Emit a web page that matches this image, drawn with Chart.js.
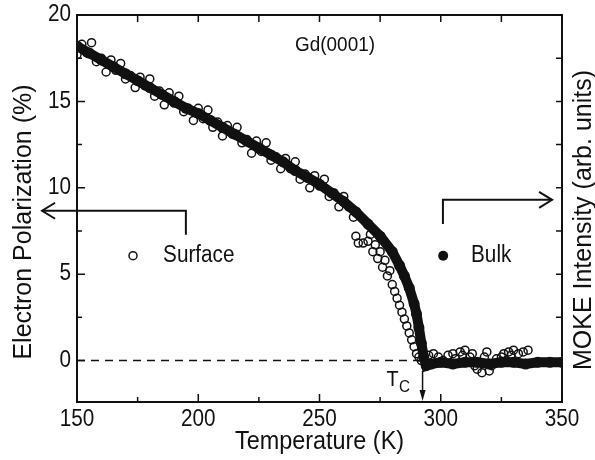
<!DOCTYPE html>
<html>
<head>
<meta charset="utf-8">
<script src="https://cdn.jsdelivr.net/npm/chart.js@4.4.0/dist/chart.umd.min.js"></script>
<style>
  body { margin: 0; background: #fff; }
</style>
</head>
<body>
<canvas id="gdChart" width="595" height="460"></canvas>
<script>
// bulk (MOKE) curve
const bulkT = [150, 155, 160, 165, 170, 175, 180, 185, 190, 195, 200, 205, 210, 215, 220, 225,
  230, 235, 240, 245, 250, 255, 260, 265, 270, 275, 280, 283, 285, 287, 289, 290, 291, 292, 293,
  294, 296, 300, 305, 310, 315, 320, 325, 330, 335, 340, 345, 350];
const bulkP = [18.2, 17.8, 17.4, 17.0, 16.6, 16.2, 15.8, 15.4, 15.0, 14.6, 14.3, 13.9, 13.5, 13.1, 12.7, 12.3,
  11.9, 11.5, 11.0, 10.6, 10.2, 9.7, 9.2, 8.6, 7.9, 7.2, 6.3, 5.5, 4.9, 4.2, 3.3, 2.7, 1.9, 1.0, 0.2,
  -0.3, -0.2, -0.1, -0.2, -0.1, -0.1, -0.2, -0.1, -0.1, -0.2, -0.1, -0.1, -0.1];

// surface (spin polarized photoemission) points
const surfT = [150, 152, 154, 156, 158, 160, 162, 164, 166, 168, 170, 172, 174, 176, 178, 180, 182, 184,
  186, 188, 190, 192, 194, 196, 198, 200, 202, 204, 206, 208, 210, 212, 214, 216, 218, 220, 222, 224,
  226, 228, 230, 232, 234, 236, 238, 240, 242, 244, 246, 248, 250, 252, 254, 256, 258, 260, 262, 264,
  265, 266, 268, 270, 271, 272, 273, 274, 275, 276, 277, 278, 279, 280, 281, 282, 283, 284, 285, 286,
  287, 288, 289, 290, 291, 292, 295, 297, 299, 301, 303, 305, 306, 308, 309, 310, 312, 313, 314, 315,
  317, 318, 319, 320, 321, 323, 325, 326, 327, 328, 329, 330, 332, 334, 336];
const surfP = [17.7, 18.3, 17.8, 18.4, 17.3, 17.5, 16.7, 17.4, 16.8, 17.2, 16.3, 16.5, 15.8, 16.4, 15.9, 16.3, 15.3, 15.6,
  14.8, 15.5, 14.9, 15.3, 14.4, 14.6, 13.9, 14.6, 14.0, 14.5, 13.5, 13.8, 13.0, 13.6, 13.1, 13.5, 12.6, 12.8, 12.0, 12.7,
  12.1, 12.6, 11.6, 11.8, 11.1, 11.7, 11.1, 11.5, 10.5, 10.8, 10.0, 10.7, 10.1, 10.5, 9.5, 9.7, 8.9, 9.5, 8.9, 8.3,
  7.2, 6.8, 6.8, 6.9, 7.3, 6.3, 6.7, 5.9, 6.3, 5.4, 5.8, 4.9, 5.2, 4.4, 4.0, 3.6, 3.2, 2.8, 2.4, 2.0,
  1.6, 1.2, 0.8, 0.4, 0.2, 0.0, 0.3, 0.4, 0.2, 0.0, 0.3, 0.4, 0.1, 0.5, 0.3, 0.6, 0.2, 0.4, -0.3, -0.5,
  -0.7, 0.2, 0.5, -0.6, -0.3, 0.1, 0.2, 0.4, 0.0, 0.5, 0.3, 0.6, 0.4, 0.5, 0.6];

const zeroT = [150, 292];
const zeroP = [0, 0];
const xTicks = [150, 200, 250, 300, 350];
const yTicks = [0, 5, 10, 15, 20];
const tc = 292.5;

const FONT = "'Liberation Sans', Arial, sans-serif";
const SX = 0.9; // horizontal text in the figure is a bit narrow

const pts = (xs, ys) => xs.map((x, i) => ({ x, y: ys[i] }));

const txt = (ctx, s, x, y, size, align, rot) => {
  ctx.save();
  ctx.translate(x, y);
  if (rot) {
    ctx.rotate(rot);
  } else {
    ctx.scale(SX, 1);
  }
  ctx.font = size + 'px ' + FONT;
  ctx.textAlign = align || 'center';
  ctx.textBaseline = 'middle';
  ctx.fillStyle = '#111';
  ctx.fillText(s, 0, 0);
  ctx.restore();
};

const chevron = (ctx, x, y, d) => {
  ctx.beginPath();
  ctx.moveTo(x + d * 13, y - 8);
  ctx.lineTo(x, y);
  ctx.lineTo(x + d * 13, y + 8);
  ctx.stroke();
};

const decor = {
  id: 'decor',
  afterDraw(chart) {
    const { ctx, chartArea: a } = chart;
    const xs = chart.scales.x, ys = chart.scales.y;
    const X = v => xs.getPixelForValue(v), Y = v => ys.getPixelForValue(v);
    ctx.save();
    ctx.strokeStyle = '#111';
    ctx.fillStyle = '#111';

    // frame
    ctx.lineWidth = 2;
    ctx.strokeRect(a.left, a.top, a.right - a.left, a.bottom - a.top);

    // inward ticks
    ctx.lineWidth = 1.5;
    ctx.beginPath();
    for (let v = 150; v <= 350; v += 25) {
      const len = v % 50 === 0 ? 8 : 5;
      ctx.moveTo(X(v), a.bottom); ctx.lineTo(X(v), a.bottom - len);
      ctx.moveTo(X(v), a.top); ctx.lineTo(X(v), a.top + 7);
    }
    for (let v = 0; v <= 20; v += 2.5) {
      const len = v % 5 === 0 ? 8 : 5;
      ctx.moveTo(a.left, Y(v)); ctx.lineTo(a.left + len, Y(v));
      ctx.moveTo(a.right, Y(v)); ctx.lineTo(a.right - 6, Y(v));
    }
    ctx.stroke();

    // tick labels
    xTicks.forEach(v => txt(ctx, String(v), X(v), a.bottom + 18, 23));
    yTicks.forEach(v => txt(ctx, String(v), a.left - 6, Y(v), 23, 'right'));

    // axis titles
    txt(ctx, 'Temperature (K)', (a.left + a.right) / 2, 442, 26);
    txt(ctx, 'Electron Polarization (%)', 24, 222, 25, 'center', -Math.PI / 2);
    txt(ctx, 'MOKE Intensity (arb. units)', 584, 220, 25, 'center', -Math.PI / 2);

    // sample label
    txt(ctx, 'Gd(0001)', X(256.4), Y(18.27), 21);

    // legend-like markers
    ctx.lineWidth = 1.5;
    ctx.beginPath();
    ctx.arc(X(173.1), Y(6.07), 4, 0, Math.PI * 2);
    ctx.stroke();
    txt(ctx, 'Surface', X(185.5), Y(6.07), 23, 'left');
    ctx.beginPath();
    ctx.arc(X(301), Y(6.07), 5, 0, Math.PI * 2);
    ctx.fill();
    txt(ctx, 'Bulk', X(312.5), Y(6.07), 23, 'left');

    // arrows to the axes
    ctx.lineWidth = 2;
    ctx.beginPath();
    ctx.moveTo(X(194.9), Y(7.28));
    ctx.lineTo(X(194.9), Y(8.67));
    ctx.lineTo(X(135.6), Y(8.67));
    ctx.moveTo(X(300.9), Y(7.9));
    ctx.lineTo(X(300.9), Y(9.3));
    ctx.lineTo(X(345.9), Y(9.3));
    ctx.stroke();
    chevron(ctx, X(135.6), Y(8.67), 1);
    chevron(ctx, X(345.9), Y(9.3), -1);

    // Tc marker
    txt(ctx, 'T', X(tc) - 30, Y(-1.15), 22);
    txt(ctx, 'C', X(tc) - 18, Y(-1.55), 17);
    ctx.lineWidth = 1.5;
    ctx.beginPath();
    ctx.moveTo(X(tc), Y(-0.6));
    ctx.lineTo(X(tc), a.bottom - 10);
    ctx.stroke();
    ctx.beginPath();
    ctx.moveTo(X(tc) - 3, a.bottom - 12);
    ctx.lineTo(X(tc) + 3, a.bottom - 12);
    ctx.lineTo(X(tc), a.bottom - 1);
    ctx.closePath();
    ctx.fill();

    ctx.restore();
  }
};

new Chart(document.getElementById('gdChart'), {
  type: 'scatter',
  data: {
    datasets: [
      {
        label: 'Surface',
        data: pts(surfT, surfP),
        pointRadius: 4,
        pointBorderWidth: 1.5,
        pointBorderColor: '#111',
        pointBackgroundColor: 'rgba(0,0,0,0)',
        showLine: false
      },
      {
        label: 'Bulk',
        data: pts(bulkT, bulkP),
        showLine: true,
        borderColor: '#111',
        borderWidth: 10,
        pointRadius: 5.5,
        pointBorderWidth: 0,
        pointBackgroundColor: '#111'
      },
      {
        label: 'zero',
        data: pts(zeroT, zeroP),
        showLine: true,
        borderColor: '#111',
        borderWidth: 1.5,
        borderDash: [8, 6],
        pointRadius: 0
      }
    ]
  },
  options: {
    responsive: false,
    animation: false,
    layout: { padding: { top: 15, right: 33, left: 0, bottom: 0 } },
    plugins: { legend: { display: false }, tooltip: { enabled: false } },
    scales: {
      x: {
        type: 'linear', min: 150, max: 350,
        grid: { display: false }, border: { display: false },
        ticks: { display: false },
        afterFit: s => { s.height = 58; }
      },
      y: {
        type: 'linear', min: -2.4, max: 20,
        grid: { display: false }, border: { display: false },
        ticks: { display: false },
        afterFit: s => { s.width = 77; }
      }
    }
  },
  plugins: [decor]
});
</script>
</body>
</html>
